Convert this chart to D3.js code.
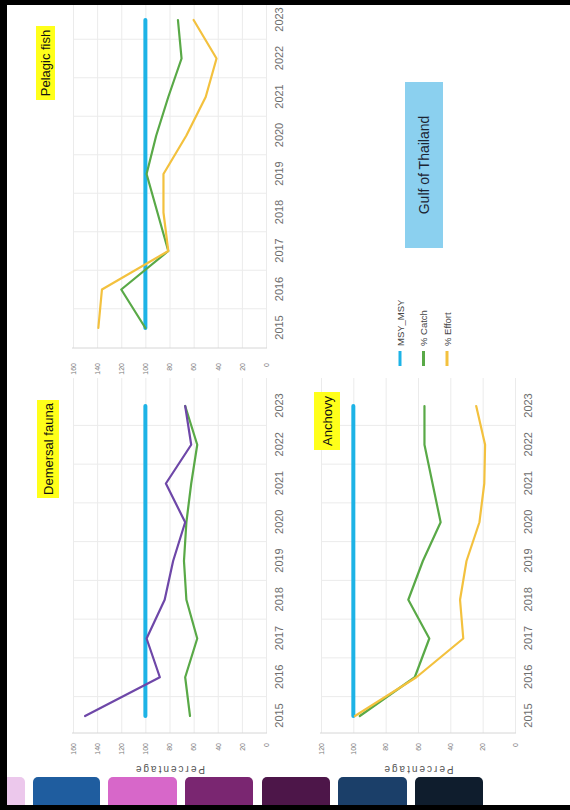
<!DOCTYPE html>
<html>
<head>
<meta charset="utf-8">
<script src="https://cdn.jsdelivr.net/npm/d3@7"></script>
<style>
  html, body { margin: 0; padding: 0; background: #fff; }
  svg { display: block; }
</style>
</head>
<body>
<script>
// ---- data ----
const years = [2015, 2016, 2017, 2018, 2019, 2020, 2021, 2022, 2023];

const demersalMSY    = [100, 100, 100, 100, 100, 100, 100, 100, 100];
const demersalCatch  = [63, 67, 57, 66, 68, 66, 62, 57, 67];
const demersalEffort = [150, 88, 99, 84, 77, 67, 83, 62, 67];

const pelagicMSY    = [100, 100, 100, 100, 100, 100, 100, 100, 100];
const pelagicCatch  = [100, 120, 81, 90, 99, 91, 81, 70, 73];
const pelagicEffort = [139, 136, 81, 85, 85, 66, 50, 41, 60];

const anchovyMSY    = [100, 100, 100, 100, 100, 100, 100, 100, 100];
const anchovyCatch  = [96, 62, 53, 66, 57, 46, 51, 56, 56];
const anchovyEffort = [99, 61, 32, 34, 30, 22, 19, 18.5, 24];

const percentTicks160 = [0, 20, 40, 60, 80, 100, 120, 140, 160];
const percentTicks120 = [0, 20, 40, 60, 80, 100, 120];

const legendLabels = ["MSY_MSY", "% Catch", "% Effort"];
const regionLabel = "Gulf of Thailand";
const axisTitle = "Percentage";

// navigation tiles along the side of the dashboard
const tileColors = ["#ecc8ec", "#1f5d9f", "#d767c9", "#7a2671", "#4d1649", "#1b3f69", "#0f1d2d"];

// ---- styles ----
const C = {
  msy: "#1db3e6",
  catch: "#59a947",
  effort: "#f3c13e",
  effortDem: "#6e47a8",
  grid: "#ebebeb",
  axis: "#d6d6d6",
  tick: "#7a7a7a",
  title: "#ffff1a",
  region: "#8bd0ef"
};
const FONT = "'Liberation Sans', Arial, sans-serif";

// The dashboard is laid out landscape (810 x 570) and turned a quarter turn
// counter-clockwise to fit the portrait page.
const svg = d3.select("body").append("svg")
  .attr("width", 570).attr("height", 810);
const g = svg.append("g").attr("transform", "translate(0,810) rotate(-90)");

g.append("rect").attr("width", 810).attr("height", 570).attr("fill", "#fff");

function drawPanel(p) {
  const x = d3.scaleLinear().domain([2015, 2023]).range(p.xRange);
  const y = d3.scaleLinear().domain([0, p.max]).range(p.yRange);
  const pg = g.append("g");

  // half-year gridlines
  const halfYears = years.slice(0, -1).map(d => d + 0.5);
  pg.append("g").selectAll("line").data(halfYears).join("line")
    .attr("x1", d => x(d)).attr("x2", d => x(d))
    .attr("y1", y(p.max)).attr("y2", y(0))
    .attr("stroke", C.grid).attr("stroke-width", 1);

  // value axis with gridlines
  const yAxis = d3.axisLeft(y).tickValues(p.ticks).tickFormat(d3.format("d"))
    .tickSize(-(p.plotRight - p.axisX)).tickPadding(p.labelPad);
  const ya = pg.append("g").attr("transform", `translate(${p.axisX},0)`).call(yAxis);
  ya.select(".domain").remove();
  ya.selectAll(".tick line").attr("stroke", C.grid);
  ya.selectAll(".tick text").attr("fill", C.tick)
    .style("font-family", FONT).style("font-size", "7px");

  // axis baseline
  pg.append("line")
    .attr("x1", p.axisX).attr("x2", p.axisX)
    .attr("y1", y(p.max) - 1).attr("y2", y(0) + 1)
    .attr("stroke", C.axis);

  // year axis
  const xAxis = d3.axisBottom(x).tickValues(years).tickFormat(d3.format("d"))
    .tickSize(0).tickPadding(9);
  const xa = pg.append("g").attr("transform", `translate(0,${y(0)})`).call(xAxis);
  xa.select(".domain").remove();
  xa.selectAll(".tick text").attr("fill", "#6d6d6d")
    .style("font-family", FONT).style("font-size", "11px");

  // series
  const line = d3.line().x((d, i) => x(years[i])).y(d => y(d));
  p.series.forEach(s => {
    pg.append("path").datum(s.values)
      .attr("d", line).attr("fill", "none")
      .attr("stroke", s.color).attr("stroke-width", s.width)
      .attr("stroke-linejoin", "round").attr("stroke-linecap", "round");
  });

  // panel title badge
  const tb = p.titleBox;
  pg.append("rect").attr("x", tb[0]).attr("y", tb[1])
    .attr("width", tb[2]).attr("height", tb[3]).attr("fill", C.title);
  pg.append("text").attr("x", tb[0] + tb[2] / 2).attr("y", tb[1] + tb[3] / 2)
    .attr("text-anchor", "middle").attr("dominant-baseline", "central")
    .style("font-family", FONT).style("font-size", "13px").attr("fill", "#111")
    .text(p.title);

  // axis title
  if (p.showAxisTitle) {
    const cy = (y(0) + y(p.max)) / 2;
    pg.append("text")
      .attr("transform", `translate(41,${cy}) rotate(-90)`)
      .attr("text-anchor", "middle").attr("dominant-baseline", "central")
      .style("font-family", FONT).style("font-size", "10px")
      .style("letter-spacing", "2px").attr("fill", "#555")
      .text(axisTitle);
  }
}

drawPanel({
  title: "Demersal fauna",
  xRange: [94, 404], yRange: [266, 73], max: 160, ticks: percentTicks160,
  axisX: 77, plotRight: 432, labelPad: 10,
  titleBox: [312, 37, 98, 22], showAxisTitle: true,
  series: [
    { values: demersalMSY, color: C.msy, width: 4 },
    { values: demersalCatch, color: C.catch, width: 2.2 },
    { values: demersalEffort, color: C.effortDem, width: 2.2 }
  ]
});

drawPanel({
  title: "Pelagic fish",
  xRange: [482, 790], yRange: [266, 73], max: 160, ticks: percentTicks160,
  axisX: 462, plotRight: 806, labelPad: 15,
  titleBox: [710, 36, 74, 19], showAxisTitle: false,
  series: [
    { values: pelagicMSY, color: C.msy, width: 4 },
    { values: pelagicCatch, color: C.catch, width: 2.2 },
    { values: pelagicEffort, color: C.effort, width: 2.2 }
  ]
});

drawPanel({
  title: "Anchovy",
  xRange: [94, 404], yRange: [515, 321], max: 120, ticks: percentTicks120,
  axisX: 77, plotRight: 432, labelPad: 10,
  titleBox: [360, 314, 58, 26], showAxisTitle: true,
  series: [
    { values: anchovyMSY, color: C.msy, width: 4 },
    { values: anchovyCatch, color: C.catch, width: 2.2 },
    { values: anchovyEffort, color: C.effort, width: 2.2 }
  ]
});

// legend
const legendColors = [C.msy, C.catch, C.effort];
const lg = g.append("g");
legendLabels.forEach((lab, i) => {
  const ly = 400 + i * 23.5;
  lg.append("line").attr("x1", 444).attr("x2", 459).attr("y1", ly).attr("y2", ly)
    .attr("stroke", legendColors[i]).attr("stroke-width", 3);
  lg.append("text").attr("x", 464).attr("y", ly)
    .attr("dominant-baseline", "central")
    .style("font-family", FONT).style("font-size", "9.5px").attr("fill", "#444")
    .text(lab);
});

// region badge
g.append("rect").attr("x", 562).attr("y", 405).attr("width", 166).attr("height", 38)
  .attr("fill", C.region);
g.append("text").attr("x", 645).attr("y", 424)
  .attr("text-anchor", "middle").attr("dominant-baseline", "central")
  .style("font-family", FONT).style("font-size", "14px").attr("fill", "#1c2433")
  .text(regionLabel);

// navigation tiles
const tileSpans = [[-40, 25], [33, 100], [108, 177], [185, 253], [262, 330], [338, 407], [415, 483]];
g.append("g").selectAll("rect").data(tileSpans).join("rect")
  .attr("x", -6).attr("y", d => d[0])
  .attr("width", 39).attr("height", d => d[1] - d[0])
  .attr("rx", 5).attr("fill", (d, i) => tileColors[i]);

// frame
g.append("rect").attr("x", 0).attr("y", 0).attr("width", 810).attr("height", 7).attr("fill", "#000");
g.append("rect").attr("x", 805).attr("y", 0).attr("width", 5).attr("height", 570).attr("fill", "#000");
g.append("rect").attr("x", 0).attr("y", 0).attr("width", 5).attr("height", 570).attr("fill", "#000");
</script>
</body>
</html>
